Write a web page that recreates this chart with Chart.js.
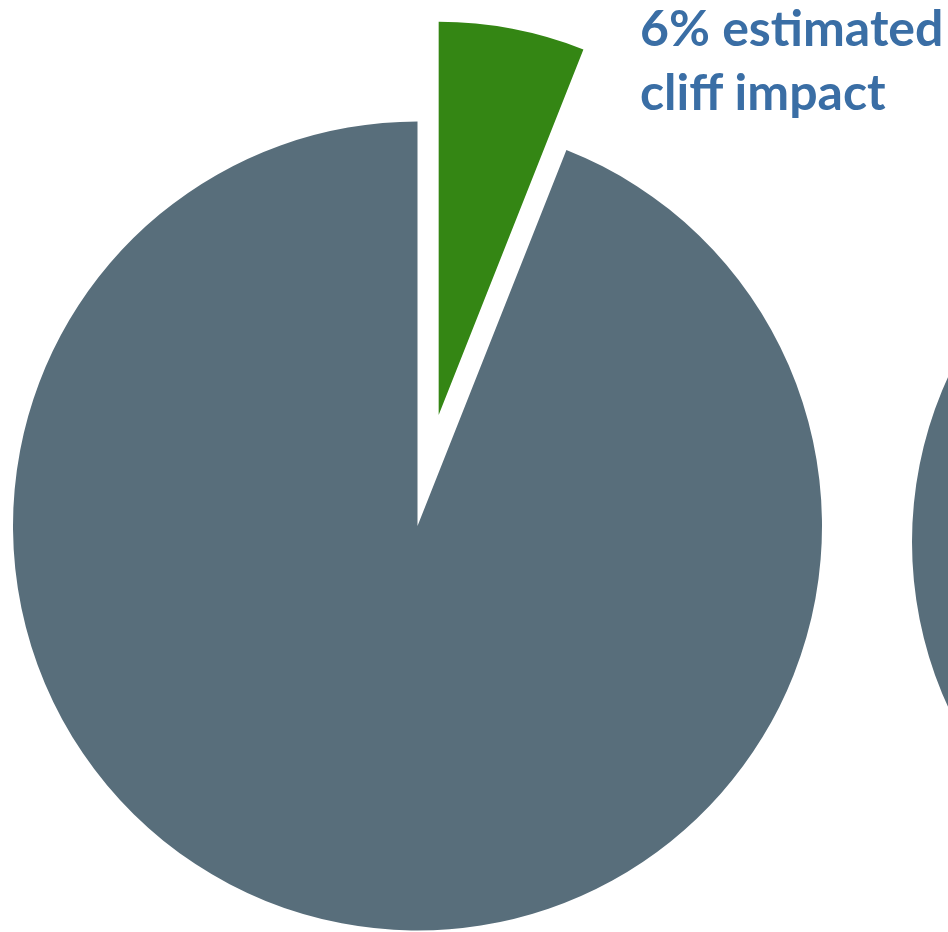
<!DOCTYPE html>
<html lang="en">
  <head>
    <meta charset="UTF-8" />
    <title>Cliff impact</title>
    <script src="https://cdn.jsdelivr.net/npm/chart.js"></script>
    <style>
      html,
      body {
        margin: 0;
        padding: 0;
        overflow: hidden;
        background: #fff;
      }
      #main {
        position: absolute;
        left: 0;
        top: 0;
        width: 948px;
        height: 932px;
      }
      #next {
        position: absolute;
        left: 912px;
        top: 146px;
        width: 792px;
        height: 792px;
      }
      .note {
        position: absolute;
        left: 640px;
        top: -5px;
        font-family: Lato, sans-serif;
        font-weight: bold;
        font-size: 50px;
        line-height: 64px;
        color: #3a6ea5;
        white-space: nowrap;
      }
    </style>
  </head>
  <body>
    <canvas id="main" width="948" height="932"></canvas>
    <canvas id="next" width="792" height="792"></canvas>
    <div class="note">6% estimated<br />cliff impact</div>
  </body>
  <script>
    const labels = ["Estimated cliff impact", "Rest"];
    const shares = [6, 94];
    const colors = ["#348614", "#586e7b"];
    const nextShares = [100]; // pie cut off at the right edge

    // pull the first slice out along its middle angle, a little smaller
    // (chart.js offset also shrinks the slice angle, so do it by hand)
    const explodeFirst = {
      id: "explodeFirst",
      afterDatasetUpdate(chart, args) {
        const arc = chart.getDatasetMeta(args.index).data[0];
        if (!arc) return;
        const mid = (arc.startAngle + arc.endAngle) / 2;
        arc.x += Math.cos(mid) * 113;
        arc.y += Math.sin(mid) * 113;
        arc.outerRadius = arc.outerRadius * 0.972;
      },
    };

    new Chart(document.getElementById("main"), {
      type: "pie",
      data: {
        labels: labels,
        datasets: [
          {
            data: shares,
            backgroundColor: colors,
            borderWidth: 0,
            radius: 404.5,
            clip: false,
          },
        ],
      },
      options: {
        responsive: false,
        animation: false,
        layout: { padding: { left: 0, right: 113, top: 120, bottom: 0 } },
        plugins: { legend: { display: false }, tooltip: { enabled: false } },
      },
      plugins: [explodeFirst],
    });

    new Chart(document.getElementById("next"), {
      type: "pie",
      data: {
        labels: ["Next"],
        datasets: [
          { data: nextShares, backgroundColor: ["#586e7b"], borderWidth: 0 },
        ],
      },
      options: {
        responsive: false,
        animation: false,
        plugins: { legend: { display: false }, tooltip: { enabled: false } },
      },
    });
  </script>
</html>
